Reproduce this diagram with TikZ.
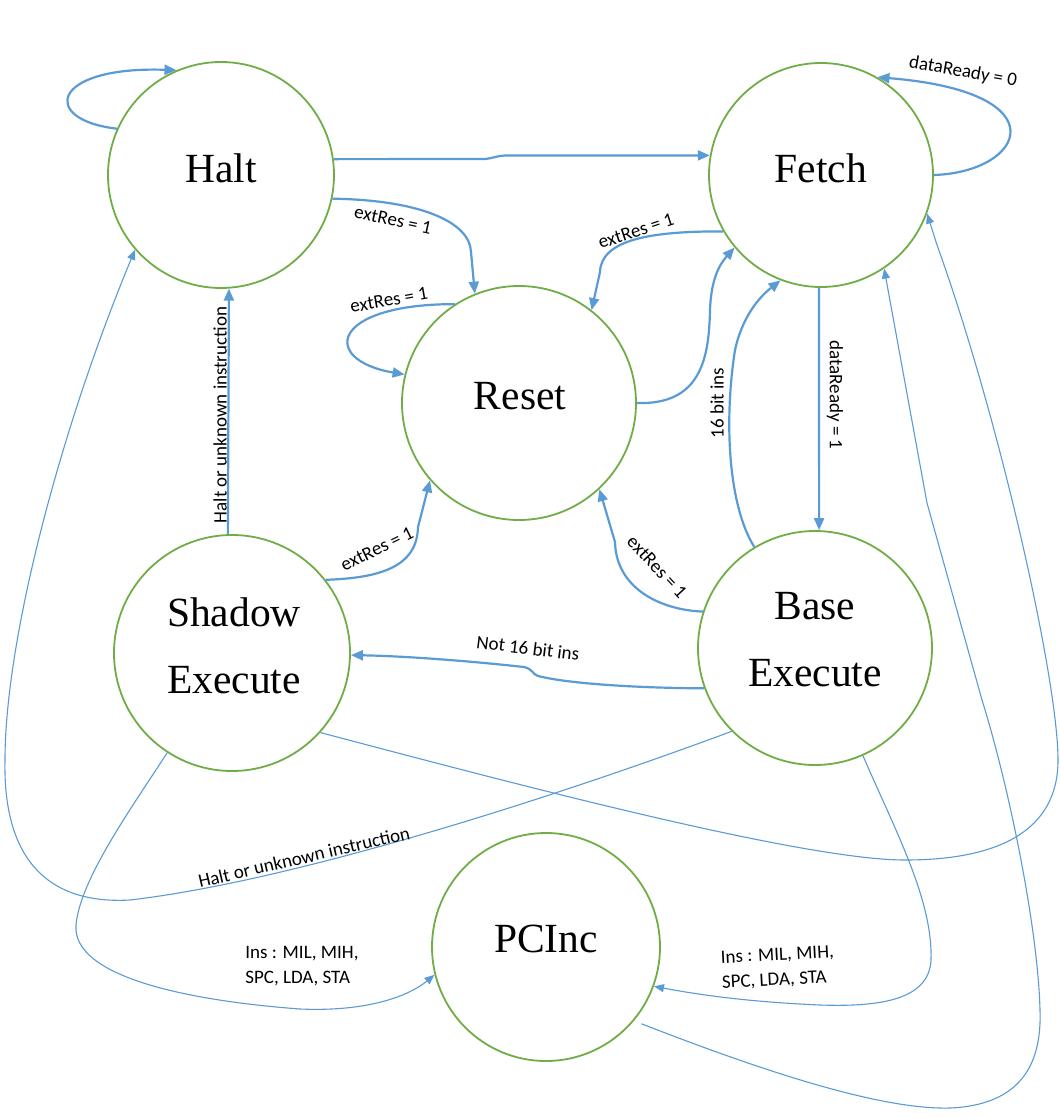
\documentclass[tikz,border=0pt]{standalone}
\usepackage{fontspec}
\setmainfont{Liberation Serif}
\newfontfamily\lblfont{Carlito}
\usetikzlibrary{arrows.meta}
\definecolor{stgreen}{HTML}{70AD47}
\definecolor{arblue}{HTML}{5B9BD5}
\begin{document}
\begin{tikzpicture}[x=1pt,y=-1pt,
  state/.style={circle,draw=stgreen,line width=1.8pt,minimum size=#1,inner sep=0pt},
  stname/.style={font=\fontsize{41.5}{67}\selectfont,align=center,inner sep=0pt},
  bigarrow/.style={draw=arblue,line width=2.2pt,-{Triangle[length=12pt,width=10pt]}},
  thinarrow/.style={draw=arblue,line width=1.1pt,-{Triangle[length=10pt,width=8pt]}},
  lbl/.style={font=\lblfont\fontsize{19}{25}\selectfont,inner sep=0pt}]
\fill[white] (0,0) rectangle (1060,1119);
\useasboundingbox (0,0) rectangle (1060,1119);

% states
\node[state=226pt] (halt) at (221,175) {};
\node[state=224pt] (fetch) at (821,175) {};
\node[state=234pt] (reset) at (519,403) {};
\node[state=236pt] (shadow) at (232,653) {};
\node[state=234pt] (base) at (815,648) {};
\node[state=228pt] (pcinc) at (546,947) {};

\node[stname] (haltT) at (221,168) {Halt};
\node[stname] (fetchT) at (821,168) {Fetch};
\node[stname] (resetT) at (520,396) {Reset};
\node[stname] (shadowT) at (234,646) {Shadow\\Execute};
\node[stname] (baseT) at (815,640) {Base\\Execute};
\node[stname] (pcincT) at (546,939) {PCInc};

% thick transitions
\draw[bigarrow] (halt.156) .. controls (40,120) and (50,66) .. (halt.113);
\draw[bigarrow] (halt.8) -- (485,159) .. controls (492,158.5) and (496,156) .. (505,155.5) -- (fetch.170);
\draw[bigarrow] (halt.-12) .. controls (420,200) and (470,222) .. (471,252) -- (reset.112);
\draw[bigarrow] (reset.123) .. controls (330,304) and (320,360) .. (reset.166);
\draw[bigarrow] (fetch.-150) .. controls (650,231) and (601,240) .. (600,272) -- (reset.52);
\draw[bigarrow] (reset.0) .. controls (700,405) and (709,360) .. (710,310) .. controls (711,282) and (718,266) .. (fetch.-140);
\draw[bigarrow] (fetch.0) .. controls (1025,172) and (1062,92) .. (fetch.60);
\draw[bigarrow] (base.121) .. controls (728,505) and (724,420) .. (735,350) .. controls (742,318) and (758,298) .. (fetch.-111);
\draw[bigarrow] (fetch.-91) -- (base.88);
\draw[bigarrow] (base.162) .. controls (660,610) and (616,588) .. (615,542) -- (reset.-47);
\draw[bigarrow] (shadow.38) .. controls (382,578) and (417,566) .. (418,527) -- (reset.-139);
\draw[bigarrow] (shadow.92) -- (halt.-86);
\draw[bigarrow] (base.-160) .. controls (640,688) and (570,684) .. (538,676) .. controls (532,674) and (533,669) .. (524,667) .. controls (460,660) and (400,656) .. (shadow.-1);

% thin transitions
\draw[thinarrow] (base.-135) .. controls (560,795) and (300,880) .. (130,900) .. controls (40,905) and (3,850) .. (5,760) .. controls (5,640) and (60,430) .. (halt.-139);
\draw[thinarrow] (shadow.-42) .. controls (500,780) and (800,860) .. (905,860) .. controls (1000,860) and (1058,830) .. (1058,760) .. controls (1058,680) and (1000,420) .. (937,245) -- (fetch.-20);
\draw[thinarrow, shorten <=8pt] (pcinc.-40) .. controls (760,1070) and (880,1110) .. (950,1108) .. controls (1020,1105) and (1042,1065) .. (1040,1010) .. controls (1038,930) and (1010,790) .. (982,700) -- (927,503) -- (fetch.-56);
\draw[thinarrow] (base.-66) .. controls (895,830) and (933,900) .. (931,960) .. controls (929,1000) and (880,1007) .. (820,1005) .. controls (750,1002) and (700,995) .. (pcinc.-20);
\draw[thinarrow] (shadow.-123) .. controls (130,810) and (80,880) .. (76,925) .. controls (72,975) and (180,1000) .. (300,1009) .. controls (370,1012) and (410,995) .. (pcinc.-166);

% labels
\node[lbl, rotate=-12] (l1) at (393,220) {extRes = 1};
\node[lbl, rotate=10] (l2) at (389,300) {extRes = 1};
\node[lbl, rotate=18] (l3) at (636,231) {extRes = 1};
\node[lbl, rotate=26] (l4) at (377,549) {extRes = 1};
\node[lbl, rotate=-47] (l5) at (657,567) {extRes = 1};
\node[lbl, rotate=-10] (l6) at (963,72) {dataReady = 0};
\node[lbl, rotate=90] (l7) at (717,403) {16 bit ins};
\node[lbl, rotate=-90] (l8) at (835,395) {dataReady = 1};
\node[lbl, rotate=90] (l9) at (220,415) {Halt or unknown instruction};
\node[lbl, rotate=-7] (l10) at (528,648) {Not 16 bit ins};
\node[lbl, rotate=13] (l11) at (304,857) {Halt or unknown instruction};
\node[lbl, align=left] (l12) at (302,966) {Ins : MIL, MIH,\\SPC, LDA, STA};
\node[lbl, align=left, rotate=3] (l13) at (778,968) {Ins : MIL, MIH,\\SPC, LDA, STA};
\end{tikzpicture}
\end{document}
